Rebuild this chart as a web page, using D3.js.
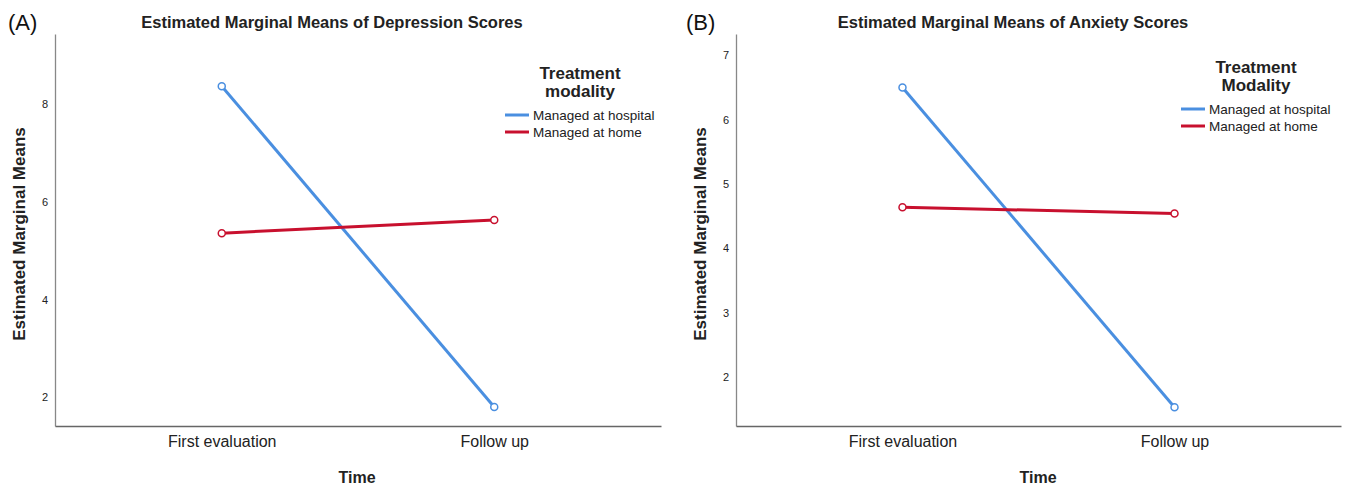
<!DOCTYPE html>
<html><head><meta charset="utf-8">
<script src="https://cdn.jsdelivr.net/npm/d3@7"></script>
<style>body{margin:0;background:#fff}svg{display:block;font-family:Arial,"Liberation Sans",sans-serif}</style>
</head><body><svg id="c" width="1346" height="487"></svg>
<script>
const timepoints = ["First evaluation", "Follow up"];
const seriesNames = ["Managed at hospital", "Managed at home"];
const depHospital = [8.37, 1.80];
const depHome = [5.36, 5.63];
const anxHospital = [6.50, 1.53];
const anxHome = [4.64, 4.54];
const depTicks = [2, 4, 6, 8];
const anxTicks = [2, 3, 4, 5, 6, 7];
const colors = ["#4a8fe0", "#c8102e"];

const svg = d3.select("#c");

function panel(o) {
  const g = svg.append("g");
  const x = d3.scalePoint().domain(timepoints).range([o.x0, o.x1]).padding(0.612);
  const y = d3.scaleLinear().domain(o.domain).range([o.y1, o.y0]);
  const ya = g.append("g").attr("transform", `translate(${o.x0},0)`)
    .call(d3.axisLeft(y).tickValues(o.ticks).tickSize(0).tickPadding(7).tickFormat(d3.format("d")));
  ya.select(".domain").attr("stroke", "#888").attr("stroke-width", 1.3);
  ya.selectAll("text").attr("font-size", 11).attr("fill", "#222");
  const xa = g.append("g").attr("transform", `translate(0,${o.y1})`)
    .call(d3.axisBottom(x).tickSize(0).tickPadding(10));
  xa.select(".domain").attr("stroke", "#666").attr("stroke-width", 1.3);
  xa.selectAll("text").attr("font-size", 16).attr("fill", "#222").attr("font-family", "Arial, 'Liberation Sans', sans-serif");
  o.series.forEach((vals, i) => {
    const pts = vals.map((v, j) => [x(timepoints[j]), y(v)]);
    g.append("path").attr("d", d3.line()(pts)).attr("fill", "none")
      .attr("stroke", colors[i]).attr("stroke-width", 3);
    g.selectAll(null).data(pts).enter().append("circle")
      .attr("cx", d => d[0]).attr("cy", d => d[1]).attr("r", 3.5)
      .attr("fill", "#fff").attr("stroke", colors[i]).attr("stroke-width", 1.5);
  });
  g.append("text").attr("x", o.x0 + 277).attr("y", 28).attr("text-anchor", "middle")
    .attr("font-size", 16.5).attr("font-weight", "bold").attr("fill", "#222").text(o.title);
  g.append("text").attr("x", o.labelX).attr("y", 30).attr("font-size", 22).attr("fill", "#111").text(o.label);
  g.append("text").attr("transform", `translate(${o.x0 - 30},234) rotate(-90)`)
    .attr("text-anchor", "middle").attr("font-size", 17).attr("font-weight", "bold").attr("fill", "#222")
    .text("Estimated Marginal Means");
  g.append("text").attr("x", o.x0 + 302).attr("y", 483).attr("text-anchor", "middle")
    .attr("font-size", 16).attr("font-weight", "bold").attr("fill", "#222").text("Time");
  const lg = g.append("g");
  o.legendTitle.forEach((t, i) => {
    lg.append("text").attr("x", o.legX + 75).attr("y", o.legY + i * 18).attr("text-anchor", "middle")
      .attr("font-size", 17).attr("font-weight", "bold").attr("fill", "#222").text(t);
  });
  seriesNames.forEach((s, i) => {
    const yy = o.legY + 36 + i * 17;
    lg.append("line").attr("x1", o.legX).attr("x2", o.legX + 24).attr("y1", yy).attr("y2", yy)
      .attr("stroke", colors[i]).attr("stroke-width", 3);
    lg.append("text").attr("x", o.legX + 28).attr("y", yy + 4.5).attr("font-size", 13.5).attr("fill", "#222").text(s);
  });
}

panel({x0: 55, x1: 661, y0: 34, y1: 426, domain: [1.41, 9.44], ticks: depTicks,
  series: [depHospital, depHome], title: "Estimated Marginal Means of Depression Scores",
  label: "(A)", labelX: 8, legX: 505, legY: 79, legendTitle: ["Treatment", "modality"]});
panel({x0: 736, x1: 1341, y0: 34, y1: 426, domain: [1.24, 7.33], ticks: anxTicks,
  series: [anxHospital, anxHome], title: "Estimated Marginal Means of Anxiety Scores",
  label: "(B)", labelX: 686, legY: 73, legX: 1181, legendTitle: ["Treatment", "Modality"]});
</script></body></html>
